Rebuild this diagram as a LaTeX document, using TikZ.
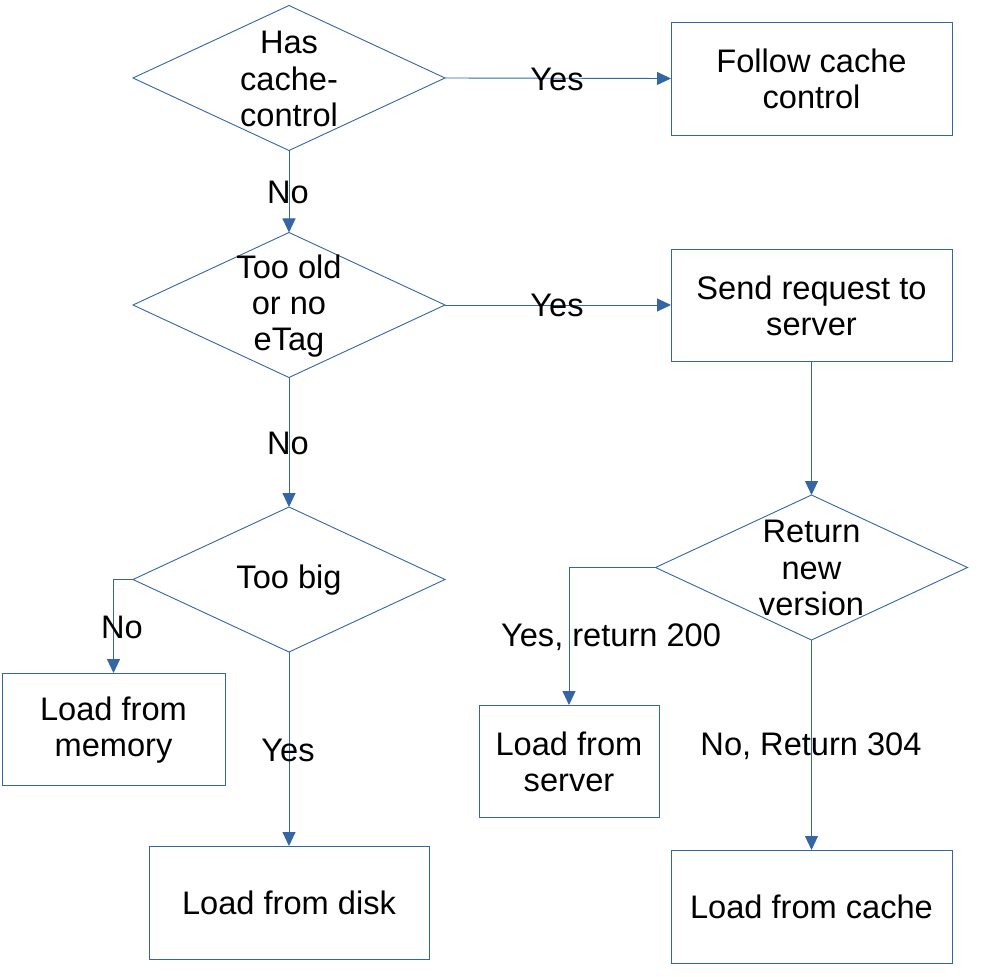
\documentclass[tikz,border=0pt]{standalone}
\usepackage{fontspec}
\setmainfont{Liberation Sans}
\usetikzlibrary{shapes.geometric,arrows.meta}
\definecolor{lo}{HTML}{3465A4}
\begin{document}
\begin{tikzpicture}[x=1pt,y=-1pt,
  dia/.style={draw=lo,line width=0.9pt,shape=diamond,minimum width=312pt,minimum height=145pt,inner sep=0pt,outer sep=0pt},
  box/.style={draw=lo,line width=0.9pt,shape=rectangle,inner sep=0pt,outer sep=0pt},
  txt/.style={align=center,font=\fontsize{32.6}{36.3}\selectfont,inner sep=0pt},
  lbl/.style={font=\fontsize{32.6}{36.3}\selectfont,inner sep=0pt},
  arr/.style={draw=lo,line width=0.9pt,-{Triangle[length=14pt,width=13pt]}}]
\useasboundingbox (0,0) rectangle (992,976);
% decisions
\node[dia] (d1) at (289,78) {};
\node[txt] (t1) at (289,79) {Has\\cache-\\control};
\node[dia] (d2) at (289,305) {};
\node[txt] (t2) at (289,306) {Too old\\or no\\eTag};
\node[dia] (d3) at (289,579.5) {};
\node[txt] (t3) at (289,580) {Too big};
\node[dia] (d4) at (811.5,567.5) {};
\node[txt] (t4) at (811.5,568) {Return\\new\\version};
% boxes
\node[box,minimum width=281pt,minimum height=113pt] (b1) at (811.5,78.5) {};
\node[txt] (tb1) at (811.5,79) {Follow cache\\control};
\node[box,minimum width=281pt,minimum height=112pt] (b2) at (811.5,305) {};
\node[txt] (tb2) at (811.5,306) {Send request to\\server};
\node[box,minimum width=223pt,minimum height=112pt] (bm) at (113.5,729) {};
\node[txt] (tbm) at (113.5,730) {Load from\\memory};
\node[box,minimum width=280pt,minimum height=113pt] (bd) at (289,902.5) {};
\node[txt] (tbd) at (289,903) {Load from disk};
\node[box,minimum width=180pt,minimum height=112pt] (bs) at (569,761) {};
\node[txt] (tbs) at (569,762) {Load from\\server};
\node[box,minimum width=281pt,minimum height=113pt] (bc) at (811.5,906.5) {};
\node[txt] (tbc) at (811.5,907) {Load from cache};
% connectors
\draw[arr] (d1.east) -- (b1.west);
\draw[arr] (d1.south) -- (d2.north);
\draw[arr] (d2.east) -- (b2.west);
\draw[arr] (d2.south) -- (d3.north);
\draw[arr] (d3.west) -| (bm.north);
\draw[arr] (d3.south) -- (bd.north);
\draw[arr] (b2.south) -- (d4.north);
\draw[arr] (d4.west) -| (bs.north);
\draw[arr] (d4.south) -- (bc.north);
% labels
\node[lbl] (l1) at (557,79) {Yes};
\node[lbl] (l2) at (288,192) {No};
\node[lbl] (l3) at (557,305) {Yes};
\node[lbl] (l4) at (288,443) {No};
\node[lbl] (l5) at (122,627) {No};
\node[lbl] (l6) at (288,750) {Yes};
\node[lbl] (l7) at (611,637) {Yes, return 200};
\node[lbl] (l8) at (811,746) {No, Return 304};
\end{tikzpicture}
\end{document}
